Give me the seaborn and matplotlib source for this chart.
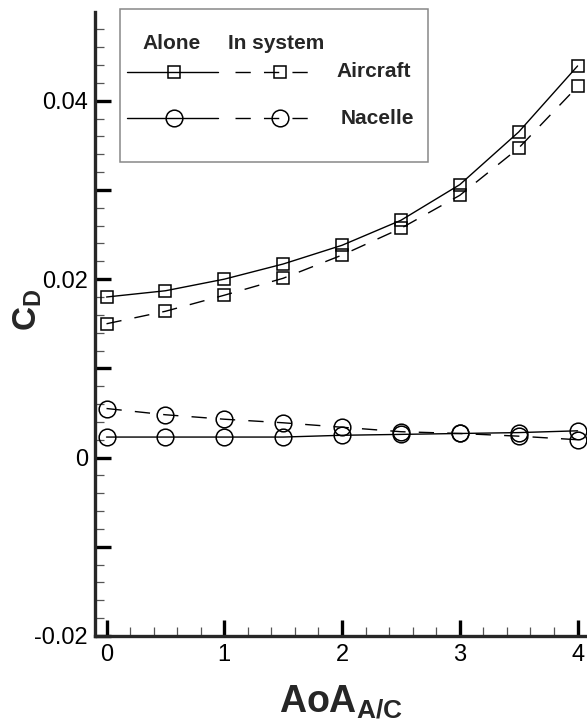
import numpy as np
import pandas as pd
import matplotlib
matplotlib.use("Agg")
import matplotlib.pyplot as plt
import seaborn as sns
from matplotlib.ticker import MultipleLocator, AutoMinorLocator, FuncFormatter
from matplotlib.patches import Rectangle

# data
aoa = [0, 0.5, 1, 1.5, 2, 2.5, 3, 3.5, 4]
aircraft_alone = [0.0180, 0.0187, 0.0200, 0.0217, 0.0238, 0.0266, 0.0306, 0.0365, 0.0439]
aircraft_system = [0.0150, 0.0164, 0.0182, 0.0201, 0.0227, 0.0257, 0.0294, 0.0347, 0.0416]
nacelle_alone = [0.0023, 0.0023, 0.0023, 0.0023, 0.0025, 0.0026, 0.0027, 0.0028, 0.0030]
nacelle_system = [0.0055, 0.0048, 0.0043, 0.0039, 0.0034, 0.0029, 0.0027, 0.0024, 0.0020]

series = {
    "Aircraft alone": aircraft_alone,
    "Aircraft in system": aircraft_system,
    "Nacelle alone": nacelle_alone,
    "Nacelle in system": nacelle_system,
}
rows = []
for name, vals in series.items():
    for a, v in zip(aoa, vals):
        rows.append({"series": name, "aoa": a, "cd": v})
df = pd.DataFrame(rows)

sns.set_style("ticks")
plt.rcParams["font.family"] = ["Liberation Sans", "DejaVu Sans"]
plt.rcParams["mathtext.fontset"] = "custom"
plt.rcParams["mathtext.rm"] = "Liberation Sans"
plt.rcParams["mathtext.bf"] = "Liberation Sans:bold"
plt.rcParams["axes.unicode_minus"] = False

fig = plt.figure(figsize=(5.87, 7.28), dpi=100)
ax = fig.add_axes([0.1618, 0.1264, 0.8382, 0.8565])

DASH = (0, (11, 9.5))
styles = {
    "Aircraft alone": dict(marker="s", markersize=9, linestyle="-"),
    "Aircraft in system": dict(marker="s", markersize=9, linestyle=DASH),
    "Nacelle alone": dict(marker="o", markersize=12, linestyle="-"),
    "Nacelle in system": dict(marker="o", markersize=12, linestyle=DASH),
}
for name, st in styles.items():
    sns.lineplot(data=df[df["series"] == name], x="aoa", y="cd", ax=ax,
                 color="black", linewidth=1.0, markerfacecolor="none",
                 markeredgecolor="black", markeredgewidth=1.1,
                 clip_on=False, **st)

ax.set_xlim(-0.098, 4.08)
ax.set_ylim(-0.02, 0.0499)
ax.xaxis.set_major_locator(MultipleLocator(1))
ax.xaxis.set_minor_locator(AutoMinorLocator(5))
ax.yaxis.set_major_locator(MultipleLocator(0.01))
ax.yaxis.set_minor_locator(AutoMinorLocator(5))


def ylab(v, pos):
    k = int(round(v / 0.01))
    if k % 2:
        return ""
    if k == 0:
        return "0"
    return f"{v:.2f}"


ax.yaxis.set_major_formatter(FuncFormatter(ylab))
ax.xaxis.set_major_formatter(FuncFormatter(lambda v, p: f"{v:g}"))

sns.despine(ax=ax)
for s in ["left", "bottom"]:
    ax.spines[s].set_linewidth(2.4)
ax.tick_params(which="major", direction="in", length=11.5, width=2.4,
               labelsize=17, colors="black", pad=5)
ax.tick_params(which="minor", direction="in", length=6.5, width=0.9,
               color="#555555")
ax.tick_params(axis="x", which="major", pad=6)

ax.set_xlabel(r"$\mathbf{AoA}_{\mathbf{A/C}}$", fontsize=27, labelpad=12)
ax.set_ylabel(r"$\mathbf{C}_{\mathbf{D}}$", fontsize=24)
ax.yaxis.set_label_coords(-0.104, 0.523)

# legend box, drawn by hand like the original
tr = ax.transAxes
ax.add_patch(Rectangle((0.0513, 0.7609), 0.6246, 0.2442, transform=tr,
                       facecolor="white", edgecolor="#888888", linewidth=1.1,
                       clip_on=False, zorder=5))
ax.text(0.1567, 0.9506, "Alone", transform=tr, ha="center", va="center",
        fontsize=15, fontweight="bold", zorder=6)
ax.text(0.3687, 0.9506, "In system", transform=tr, ha="center", va="center",
        fontsize=15, fontweight="bold", zorder=6)
for yy, mk, ms, lab, lx in [(0.9051, "s", 9, "Aircraft", 0.4913),
                            (0.8304, "o", 12, "Nacelle", 0.4989)]:
    ax.plot([0.0661, 0.2492], [yy, yy], transform=tr, color="black",
            linewidth=1.0, zorder=6, clip_on=False)
    ax.plot([0.1597], [yy], transform=tr, marker=mk, markersize=ms,
            markerfacecolor="none", markeredgecolor="black",
            markeredgewidth=1.1, zorder=7, clip_on=False)
    ax.plot([0.2838, 0.4425], [yy, yy], transform=tr, color="black",
            linewidth=1.0, linestyle=DASH, zorder=6, clip_on=False)
    ax.plot([0.3754], [yy], transform=tr, marker=mk, markersize=ms,
            markerfacecolor="none", markeredgecolor="black",
            markeredgewidth=1.1, zorder=7, clip_on=False)
    ax.text(lx, yy, lab, transform=tr, ha="left", va="center",
            fontsize=15, fontweight="bold", zorder=6)

fig.savefig("out.png", dpi=100)
